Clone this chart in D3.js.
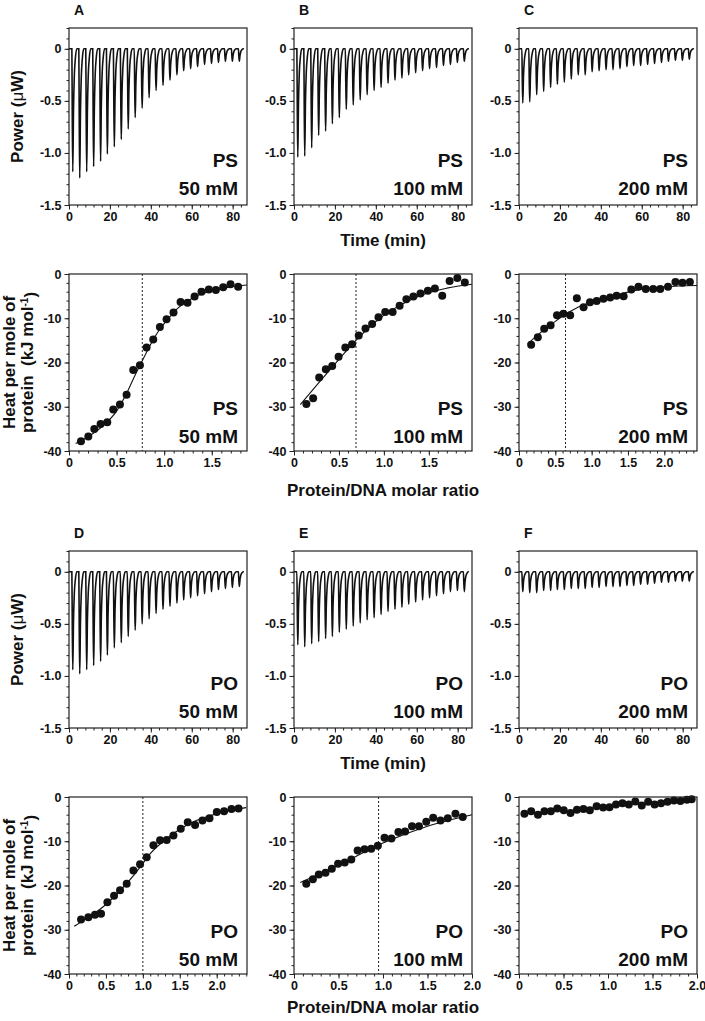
<!DOCTYPE html>
<html><head><meta charset="utf-8">
<script src="https://cdn.jsdelivr.net/npm/d3@7"></script>
<style>
body{margin:0;background:#fff}
text{font-family:"Liberation Sans",Arial,Helvetica,sans-serif;font-weight:bold;fill:#111}
</style>
</head><body>
<svg id="chart" width="705" height="1021"></svg>
<script>
// ---------------- DATA ----------------
const panelLetters = ["A","B","C","D","E","F"];
const constructs = ["PS","PS","PS","PO","PO","PO"];
const salts = ["50 mM","100 mM","200 mM","50 mM","100 mM","200 mM"];

// injection times (min) of the 25 injections
const injTimes = [1.4,4.8,8.2,11.6,15.0,18.3,21.7,25.1,28.5,31.9,35.3,38.7,42.1,45.5,48.9,52.3,55.6,59.0,62.4,65.8,69.2,72.6,76.0,79.4,82.8];
const runEnd = 85.5;
const timeTicks = [0,20,40,60,80];

// peak power (µW) of each injection
const peaksA = [-1.18,-1.24,-1.18,-1.13,-1.08,-1.01,-0.94,-0.87,-0.77,-0.66,-0.57,-0.47,-0.40,-0.35,-0.30,-0.25,-0.21,-0.19,-0.17,-0.15,-0.14,-0.13,-0.12,-0.12,-0.12];
const peaksB = [-1.04,-1.03,-0.95,-0.83,-0.79,-0.72,-0.66,-0.58,-0.54,-0.49,-0.44,-0.40,-0.37,-0.33,-0.30,-0.28,-0.25,-0.23,-0.21,-0.19,-0.18,-0.16,-0.15,-0.13,-0.12];
const peaksC = [-0.52,-0.51,-0.44,-0.41,-0.37,-0.34,-0.32,-0.29,-0.25,-0.25,-0.22,-0.21,-0.20,-0.20,-0.19,-0.17,-0.16,-0.16,-0.15,-0.14,-0.13,-0.12,-0.11,-0.11,-0.10];
const peaksD = [-0.94,-0.98,-0.94,-0.90,-0.86,-0.80,-0.73,-0.68,-0.62,-0.56,-0.50,-0.45,-0.40,-0.36,-0.33,-0.30,-0.27,-0.25,-0.23,-0.21,-0.19,-0.17,-0.16,-0.15,-0.14];
const peaksE = [-0.70,-0.72,-0.69,-0.67,-0.64,-0.62,-0.58,-0.55,-0.52,-0.49,-0.46,-0.44,-0.41,-0.38,-0.36,-0.34,-0.31,-0.29,-0.27,-0.25,-0.23,-0.21,-0.19,-0.18,-0.19];
const peaksF = [-0.19,-0.20,-0.20,-0.18,-0.18,-0.17,-0.17,-0.16,-0.16,-0.16,-0.15,-0.15,-0.14,-0.14,-0.14,-0.13,-0.13,-0.12,-0.12,-0.11,-0.10,-0.10,-0.09,-0.09,-0.09];

// integrated heats: molar ratio and kJ/mol
const ratioA = [0.126,0.203,0.266,0.332,0.402,0.465,0.535,0.605,0.675,0.745,0.815,0.885,0.955,1.025,1.098,1.172,1.245,1.319,1.392,1.469,1.543,1.620,1.697,1.777];
const heatA  = [-37.8,-36.7,-35.0,-33.9,-33.5,-30.6,-29.5,-27.3,-21.7,-20.6,-16.6,-14.8,-12.0,-10.2,-8.7,-6.3,-6.5,-5.1,-4.0,-3.5,-3.6,-3.0,-2.3,-2.9];
const fitA = [[0.07,-38.3],[0.2,-36.8],[0.4,-33.5],[0.5,-31.0],[0.6,-27.2],[0.7,-22.6],[0.77,-19.6],[0.85,-16.2],[0.95,-12.6],[1.05,-9.9],[1.15,-7.6],[1.3,-5.4],[1.5,-3.8],[1.7,-2.9],[1.87,-2.5]];
const ratioB = [0.138,0.213,0.28,0.354,0.425,0.496,0.571,0.646,0.72,0.795,0.869,0.94,1.015,1.097,1.175,1.25,1.328,1.407,1.489,1.567,1.649,1.731,1.817,1.90];
const heatB  = [-29.4,-28.1,-23.4,-21.5,-20.8,-18.7,-16.6,-15.9,-13.9,-12.3,-11.3,-9.8,-8.6,-8.6,-7.2,-5.7,-5.1,-4.4,-3.8,-3.3,-4.9,-1.6,-0.9,-1.9];
const fitB = [[0.07,-29.5],[0.3,-24.0],[0.5,-19.3],[0.7,-14.8],[0.9,-10.9],[1.1,-8.0],[1.3,-5.8],[1.5,-4.2],[1.7,-3.2],[1.98,-2.3]];
const ratioC = [0.167,0.259,0.347,0.435,0.523,0.611,0.704,0.796,0.889,0.977,1.069,1.162,1.255,1.343,1.44,1.546,1.644,1.745,1.847,1.944,2.051,2.153,2.25,2.352];
const heatC  = [-16.0,-14.3,-12.4,-11.6,-9.3,-9.0,-9.3,-5.5,-7.5,-6.4,-6.1,-5.6,-5.3,-4.9,-5.0,-3.5,-2.9,-3.4,-3.4,-3.4,-2.9,-1.8,-2.0,-1.8];
const fitC = [[0.12,-15.8],[0.3,-13.2],[0.5,-10.7],[0.65,-9.0],[0.8,-7.6],[1.0,-6.4],[1.2,-5.4],[1.4,-4.5],[1.6,-3.7],[1.8,-3.2],[2.0,-2.9],[2.2,-2.7],[2.45,-2.6]];
const ratioD = [0.163,0.262,0.352,0.434,0.52,0.61,0.691,0.781,0.872,0.962,1.052,1.143,1.233,1.323,1.414,1.513,1.608,1.707,1.807,1.902,2.001,2.1,2.2,2.295];
const heatD  = [-27.7,-27.2,-26.6,-26.4,-23.8,-22.3,-21.1,-19.6,-16.6,-15.2,-13.6,-10.9,-9.8,-9.7,-8.7,-7.2,-5.7,-6.3,-5.3,-4.8,-3.4,-3.2,-2.7,-2.6];
const fitD = [[0.07,-29.2],[0.3,-26.8],[0.5,-24.3],[0.7,-21.0],[0.9,-17.2],[1.0,-15.0],[1.1,-12.8],[1.3,-9.7],[1.5,-7.3],[1.7,-5.5],[1.9,-4.3],[2.1,-3.3],[2.4,-2.4]];
const ratioE = [0.138,0.212,0.279,0.354,0.425,0.495,0.57,0.644,0.715,0.793,0.868,0.942,1.017,1.095,1.173,1.248,1.326,1.404,1.486,1.564,1.646,1.728,1.814,1.896];
const heatE  = [-19.6,-18.6,-17.5,-17.1,-16.2,-15.1,-14.8,-14.1,-12.1,-11.8,-11.7,-11.0,-9.2,-9.4,-7.9,-7.8,-6.6,-6.6,-5.6,-4.7,-5.3,-4.8,-3.8,-4.5];
const fitE = [[0.07,-19.3],[0.5,-15.4],[1.0,-10.4],[1.5,-6.6],[2.0,-4.0]];
const ratioF = [0.061,0.137,0.213,0.286,0.358,0.43,0.503,0.579,0.651,0.724,0.796,0.872,0.945,1.017,1.09,1.162,1.234,1.307,1.379,1.451,1.524,1.596,1.669,1.741,1.813,1.886,1.94];
const heatF  = [-3.8,-3.2,-4.0,-3.2,-3.2,-2.6,-3.0,-3.6,-2.9,-2.7,-3.0,-2.1,-2.4,-2.3,-1.7,-1.4,-1.7,-1.0,-1.9,-1.1,-1.7,-1.4,-1.1,-0.8,-0.9,-0.6,-0.5];
const fitF = [];

// molar ratio axis extents and stoichiometry markers
const ratioMax = [1.87,1.98,2.45,2.41,2.0,2.0];
const nMarks = [0.77,0.69,0.64,1.0,0.95,null];

// ---------------- LAYOUT ----------------
const svg = d3.select("#chart");
const colX = [69,294,519], W = 178, H = 177;
const rowTop = [28,274,551,797];
const powerDomain = [-1.5,0.2], timeMax = 87;
// trace kernel for one injection: [dt (min), fraction of peak]
const kernel = [[0,0],[0.2,0.55],[0.45,1],[0.8,0.5],[1.2,0.22],[1.7,0.08],[2.4,0.0]];

const peaks = [peaksA,peaksB,peaksC,peaksD,peaksE,peaksF];
const ratios = [ratioA,ratioB,ratioC,ratioD,ratioE,ratioF];
const heats = [heatA,heatB,heatC,heatD,heatE,heatF];
const fits = [fitA,fitB,fitC,fitD,fitE,fitF];

function frame(g){
  g.append("rect").attr("x",0).attr("y",0).attr("width",W).attr("height",H)
   .attr("fill","none").attr("stroke","#222").attr("stroke-width",1.2);
}
function styleAxis(g){
  g.select(".domain").remove();
  g.selectAll(".tick line").attr("stroke","#222").attr("stroke-width",1);
  g.selectAll(".tick text").style("font-size","12.5px").attr("fill","#111");
}
function annot(g,i,dy1,dy2){
  g.append("text").attr("x",W-9).attr("y",H-dy1).attr("text-anchor","end").style("font-size","19px").text(constructs[i]);
  g.append("text").attr("x",W-9).attr("y",H-dy2).attr("text-anchor","end").style("font-size","19px").text(salts[i]);
}

function powerPanel(i, left, top){
  const g = svg.append("g").attr("transform",`translate(${left},${top})`);
  const x = d3.scaleLinear().domain([0,timeMax]).range([0,W]);
  const y = d3.scaleLinear().domain(powerDomain).range([H,0]);
  g.append("g").call(d3.axisLeft(y).tickValues(d3.range(-15,3).map(v=>v/10)).tickSize(2.5).tickFormat("")).call(styleAxis);
  g.append("g").attr("transform",`translate(0,${H})`).call(d3.axisBottom(x).tickValues(d3.range(0,88,4)).tickSize(2.5).tickFormat("")).call(styleAxis);
  g.append("g").call(d3.axisLeft(y).tickValues([-1.5,-1,-0.5,0]).tickSize(4.5).tickPadding(3)
    .tickFormat(d=>d===0?"0":d.toFixed(1))).call(styleAxis);
  g.append("g").attr("transform",`translate(0,${H})`).call(d3.axisBottom(x).tickValues(timeTicks).tickSize(4.5).tickPadding(3)).call(styleAxis);
  const pts = [[0,0]];
  injTimes.forEach((t,k)=>{ kernel.forEach(([dt,f])=>pts.push([t+dt, peaks[i][k]*f])); });
  pts.push([runEnd,0]);
  g.append("path").datum(pts)
    .attr("d", d3.line().x(d=>x(d[0])).y(d=>y(d[1])).curve(d3.curveMonotoneX))
    .attr("fill","none").attr("stroke","#111").attr("stroke-width",1.6);
  frame(g);
  annot(g,i,38,10);
  g.append("text").attr("x",5).attr("y",-13).style("font-size","14px").text(panelLetters[i]);
}

function heatPanel(i, left, top){
  const g = svg.append("g").attr("transform",`translate(${left},${top})`);
  const x = d3.scaleLinear().domain([0,ratioMax[i]]).range([0,W]);
  const y = d3.scaleLinear().domain([-40,0]).range([H,0]);
  g.append("g").call(d3.axisLeft(y).tickValues(d3.range(-40,1,2)).tickSize(2.5).tickFormat("")).call(styleAxis);
  g.append("g").attr("transform",`translate(0,${H})`).call(d3.axisBottom(x).tickValues(d3.range(0,Math.floor(ratioMax[i]*10+1e-6)+1).map(v=>v/10)).tickSize(2.5).tickFormat("")).call(styleAxis);
  g.append("g").call(d3.axisLeft(y).tickValues([-40,-30,-20,-10,0]).tickSize(4.5).tickPadding(3)
    .tickFormat(d=>d.toFixed(0))).call(styleAxis);
  g.append("g").attr("transform",`translate(0,${H})`).call(d3.axisBottom(x)
    .tickValues(d3.range(0,Math.floor(ratioMax[i]*2+1e-6)+1).map(v=>v/2)).tickSize(4.5).tickPadding(3)
    .tickFormat(d=>d===0?"0":d.toFixed(1))).call(styleAxis);
  if(nMarks[i]!==null){
    g.append("line").attr("x1",x(nMarks[i])).attr("x2",x(nMarks[i])).attr("y1",0).attr("y2",H)
      .attr("stroke","#222").attr("stroke-width",1).attr("stroke-dasharray","2,2");
  }
  if(fits[i].length){
    g.append("path").datum(fits[i])
      .attr("d", d3.line().x(d=>x(d[0])).y(d=>y(d[1])).curve(d3.curveMonotoneX))
      .attr("fill","none").attr("stroke","#111").attr("stroke-width",1.1);
  }
  g.selectAll("circle").data(ratios[i].map((r,k)=>[r,heats[i][k]])).join("circle")
    .attr("cx",d=>x(d[0])).attr("cy",d=>y(d[1])).attr("r",4).attr("fill","#111");
  frame(g);
  annot(g,i,36,8);
}

[0,1,2].forEach(c=>{ powerPanel(c, colX[c], rowTop[0]); heatPanel(c, colX[c], rowTop[1]); });
[3,4,5].forEach((p,c)=>{ powerPanel(p, colX[c], rowTop[2]); heatPanel(p, colX[c], rowTop[3]); });

function ytitlePower(top){
  const t = svg.append("text").attr("transform",`translate(17,${top+H/2}) rotate(-90)`)
    .attr("text-anchor","middle").attr("dy","0.35em").style("font-size","17px");
  t.append("tspan").text("Power (");
  t.append("tspan").style("font-weight","normal").text("\u03BC");
  t.append("tspan").text("W)");
}
function ytitleHeat(top){
  svg.append("text").attr("transform",`translate(9,${top+H/2}) rotate(-90)`)
    .attr("text-anchor","middle").attr("dy","0.35em").style("font-size","17px").text("Heat per mole of");
  const t = svg.append("text").attr("transform",`translate(27,${top+H/2}) rotate(-90)`)
    .attr("text-anchor","middle").attr("dy","0.35em").style("font-size","17px");
  t.append("tspan").text("protein\u00A0\u00A0(kJ mol");
  t.append("tspan").attr("dy","-0.45em").style("font-size","10px").text("-1");
  t.append("tspan").attr("dy","0.45em").text(")");
}
ytitlePower(rowTop[0]); ytitlePower(rowTop[2]);
ytitleHeat(rowTop[1]); ytitleHeat(rowTop[3]);
const cx = colX[1]+W/2;
svg.append("text").attr("x",cx).attr("y",246).attr("text-anchor","middle").style("font-size","17px").text("Time (min)");
svg.append("text").attr("x",cx).attr("y",769).attr("text-anchor","middle").style("font-size","17px").text("Time (min)");
svg.append("text").attr("x",cx).attr("y",496).attr("text-anchor","middle").style("font-size","17px").text("Protein/DNA molar ratio");
svg.append("text").attr("x",cx).attr("y",1013).attr("text-anchor","middle").style("font-size","17px").text("Protein/DNA molar ratio");
</script>
</body></html>
